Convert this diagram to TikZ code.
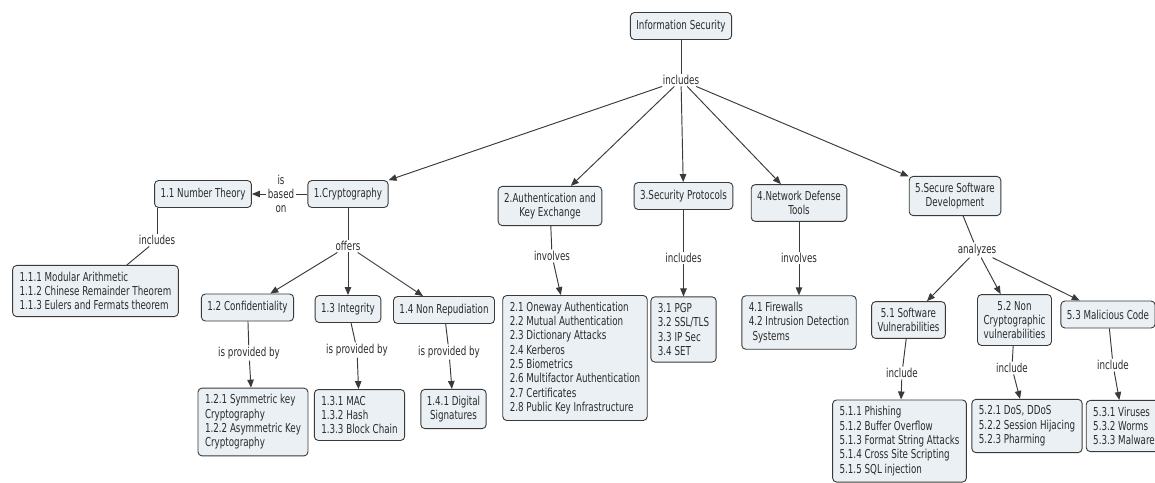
\documentclass[tikz,border=0pt]{standalone}
\usepackage{fontspec}
\setmainfont[FakeStretch=0.71]{DejaVu Sans}
\usetikzlibrary{
	arrows.meta,
	positioning
}
\definecolor{cmapfill}{HTML}{EAF0F3}
\definecolor{cmapline}{HTML}{3A3A3A}
\definecolor{cmaptext}{HTML}{2B2B2B}

\begin{document}
\begin{tikzpicture}[
  on grid,
  every node/.style={font=\fontsize{12.3}{14.3}\selectfont, text=cmaptext},
  concept/.style={rectangle, draw=cmapline, fill=cmapfill, rounded corners=4pt,
    align=center, inner xsep=6pt, inner ysep=6.5pt, minimum height=27pt,
    line width=0.9pt},
  itemlist/.style={concept, align=left, inner xsep=7pt},
  phrase/.style={align=center, inner sep=1.5pt},
  link/.style={draw=cmapline, line width=0.95pt},
  arrowlink/.style={link, -{Triangle[length=8pt, width=6.5pt]}}
]
\useasboundingbox (0,0) rectangle (1155pt,-482pt);
\node[concept] (infosec) at (681pt,-26pt) {Information Security};
\node[phrase, below=54pt of infosec] (includes) {includes};
\node[concept, below left=114pt and 333pt of includes] (crypto) {1.Cryptography};
\node[concept, below left=126pt and 131pt of includes] (authkey) {2.Authentication and\\Key Exchange};
\node[concept, below right=116pt and 2.5pt of includes] (protocols) {3.Security Protocols};
\node[concept, below right=123pt and 118pt of includes] (netdefense) {4.Network Defense\\Tools};
\node[concept, below right=116pt and 274pt of includes] (securesw) {5.Secure Software\\Development};

% 1. cryptography
\node[phrase, left=67pt of crypto] (basedon) {is\\based\\on};
\node[concept, left=78pt of basedon] (numtheory) {1.1 Number Theory};
\node[phrase, below left=46pt and 46pt of numtheory] (includesnt) {includes};
\node[itemlist, below left=51pt and 61.5pt of includesnt] (ntlist) {1.1.1 Modular Arithmetic\\1.1.2 Chinese Remainder Theorem\\1.1.3 Eulers and Fermats theorem};
\node[phrase, below=52pt of crypto] (offers) {offers};
\node[concept, below left=61.5pt and 100.5pt of offers] (confid) {1.2 Confidentiality};
\node[concept, below=63pt of offers] (integrity) {1.3 Integrity};
\node[concept, below right=64pt and 96pt of offers] (nonrep) {1.4 Non Repudiation};
\node[phrase, below right=45.5pt and 1.5pt of confid] (provconf) {is provided by};
\node[itemlist, below right=69pt and 4pt of provconf] (conflist) {1.2.1 Symmetric key\\Cryptography\\1.2.2 Asymmetric Key\\Cryptography};
\node[phrase, below right=41pt and 9pt of integrity] (provinteg) {is provided by};
\node[itemlist, below right=65pt and 2.5pt of provinteg] (integlist) {1.3.1 MAC\\1.3.2 Hash\\1.3.3 Block Chain};
\node[phrase, below right=42pt and 5pt of nonrep] (provnonrep) {is provided by};
\node[concept, below right=57pt and 4.5pt of provnonrep] (nonreplist) {1.4.1 Digital\\Signatures};

% 2. to 4.
\node[phrase, below right=50pt and 2pt of authkey] (involvesauth) {involves};
\node[itemlist, below right=102pt and 23pt of involvesauth] (authlist) {2.1 Oneway Authentication\\2.2 Mutual Authentication\\2.3 Dictionary Attacks\\2.4 Kerberos\\2.5 Biometrics\\2.6 Multifactor Authentication\\2.7 Certificates\\2.8 Public Key Infrastructure};
\node[phrase, below=62pt of protocols] (includesproto) {includes};
\node[itemlist, below=71.5pt of includesproto] (protolist) {3.1 PGP\\3.2 SSL/TLS\\3.3 IP Sec\\3.4 SET};
\node[phrase, below=55pt of netdefense] (involvesnet) {involves};
\node[itemlist, below=64.5pt of involvesnet] (netlist) {4.1 Firewalls\\4.2 Intrusion Detection\\\hspace*{0.3em}Systems};

% 5. secure software
\node[phrase, below right=54pt and 22pt of securesw] (analyzes) {analyzes};
\node[concept, below left=70pt and 68.5pt of analyzes] (swvuln) {5.1 Software\\Vulnerabilities};
\node[concept, below right=70pt and 37.5pt of analyzes] (noncrypto) {5.2 Non\\Cryptographic\\vulnerabilities};
\node[concept, below right=64.5pt and 131pt of analyzes] (malicious) {5.3 Malicious Code};
\node[phrase, below left=53pt and 6.5pt of swvuln] (includesw) {include};
\node[itemlist, below left=68pt and 2.5pt of includesw] (swlist) {5.1.1 Phishing\\5.1.2 Buffer Overflow\\5.1.3 Format String Attacks\\5.1.4 Cross Site Scripting\\5.1.5 SQL injection};
\node[phrase, below left=48pt and 2.5pt of noncrypto] (includenc) {include};
\node[itemlist, below right=58pt and 15pt of includenc] (nclist) {5.2.1 DoS, DDoS\\5.2.2 Session Hijacing\\5.2.3 Pharming};
\node[phrase, below right=50.5pt and 5pt of malicious] (includemal) {include};
\node[itemlist, below right=61pt and 11pt of includemal] (mallist) {5.3.1 Viruses\\5.3.2 Worms\\5.3.3 Malware};

\draw[link] (infosec) -- (includes);
\draw[arrowlink] (includes) -- (crypto);
\draw[arrowlink] (includes) -- (authkey);
\draw[arrowlink] (includes) -- (protocols);
\draw[arrowlink] (includes) -- (netdefense);
\draw[arrowlink] (includes) -- (securesw);
\draw[link] (crypto) -- (basedon);
\draw[arrowlink] (basedon) -- (numtheory);
\draw[link] (numtheory.south -| includesnt) -- (includesnt);
\draw[link] (includesnt) -- (ntlist);
\draw[link] (crypto) -- (offers);
\draw[arrowlink] (offers) -- (confid);
\draw[arrowlink] (offers) -- (integrity);
\draw[arrowlink] (offers) -- (nonrep);
\draw[link] (confid) -- (provconf);
\draw[arrowlink] (provconf) -- (conflist);
\draw[link] (integrity) -- (provinteg);
\draw[arrowlink] (provinteg) -- (integlist);
\draw[link] (nonrep) -- (provnonrep);
\draw[arrowlink] (provnonrep) -- (nonreplist);
\draw[link] (authkey) -- (involvesauth);
\draw[arrowlink] (involvesauth) -- (authlist);
\draw[link] (protocols) -- (includesproto);
\draw[arrowlink] (includesproto) -- (protolist);
\draw[link] (netdefense) -- (involvesnet);
\draw[arrowlink] (involvesnet) -- (netlist);
\draw[link] (securesw) -- (analyzes);
\draw[arrowlink] (analyzes) -- (swvuln);
\draw[arrowlink] (analyzes) -- (noncrypto);
\draw[arrowlink] (analyzes) -- (malicious);
\draw[link] (swvuln) -- (includesw);
\draw[arrowlink] (includesw) -- (swlist);
\draw[link] (noncrypto) -- (includenc);
\draw[arrowlink] (includenc) -- (nclist);
\draw[link] (malicious) -- (includemal);
\draw[arrowlink] (includemal) -- (mallist);
\end{tikzpicture}
\end{document}
